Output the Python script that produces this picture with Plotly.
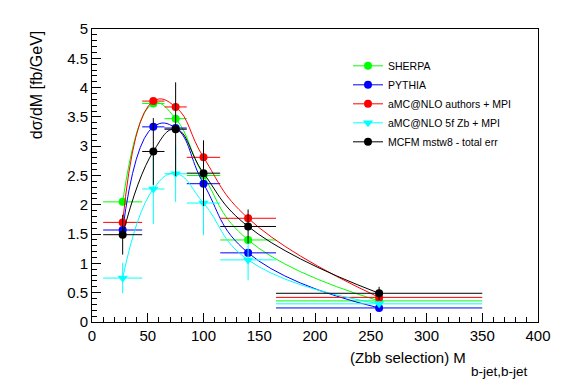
import plotly.graph_objects as go

# Bin centres and half-widths (GeV)
mass_centres = [27.5, 55, 75, 100, 140, 257.5]
mass_halfwidths = [17.5, 10, 10, 15, 25, 92.5]

# Series values (fb/GeV)
sherpa = [2.05, 3.73, 3.47, 2.50, 1.40, 0.36]
pythia = [1.57, 3.33, 3.31, 2.36, 1.18, 0.24]
amc_authors = [1.70, 3.77, 3.67, 2.81, 1.77, 0.42]
amc_5f = [0.75, 2.27, 2.53, 2.03, 1.06, 0.31]
amc_5f_err = [0.26, 0.60, 0.48, 0.55, 0.35, 0.05]
mcfm = [1.49, 2.91, 3.29, 2.54, 1.63, 0.49]
mcfm_err = [0.34, 0.57, 0.80, 0.56, 0.29, 0.11]

x_ticks = [0, 50, 100, 150, 200, 250, 300, 350, 400]
y_ticks = [0, 0.5, 1, 1.5, 2, 2.5, 3, 3.5, 4, 4.5, 5]

FONT = "Liberation Sans, Arial, Helvetica, sans-serif"

series = [
    ("SHERPA", sherpa, None, "#00ff00", "circle", 8),
    ("PYTHIA", pythia, None, "#0000ff", "circle", 8),
    ("aMC@NLO authors + MPI", amc_authors, None, "#ff0000", "circle", 8),
    ("aMC@NLO 5f Zb + MPI", amc_5f, amc_5f_err, "#00ffff", "triangle-down", 9),
    ("MCFM mstw8 - total err", mcfm, mcfm_err, "#000000", "circle", 8),
]

fig = go.Figure()
for name, vals, errs, color, symbol, msize in series:
    fig.add_trace(go.Scatter(
        x=mass_centres, y=vals, name=name,
        mode="lines+markers",
        line=dict(color=color, width=1, shape="spline", smoothing=1.3),
        marker=dict(color=color, symbol=symbol, size=msize, line=dict(width=0)),
        error_x=dict(type="data", array=mass_halfwidths, symmetric=True,
                     color=color, thickness=1, width=0),
        error_y=(dict(type="data", array=errs, symmetric=True, color=color,
                      thickness=1, width=0) if errs is not None
                 else dict(visible=False)),
    ))

# The page body has an 8px margin; compensate so the plot lands where the reference has it.
OFF = 8
W, H = 567 - OFF, 384 - OFF
PL, PR, PT, PB = 92, 538, 20, 322  # plot area in window pixels
L, R, T, B = PL - OFF, 567 - PR, PT - OFF, 384 - PB
pw, ph = PR - PL, PB - PT

def px(xp):
    return (xp - PL) / pw

def py(yp):
    return (PB - yp) / ph

fig.update_layout(
    width=W, height=H,
    margin=dict(l=L, r=R, t=T, b=B),
    paper_bgcolor="white", plot_bgcolor="white",
    font=dict(family=FONT, size=15, color="black"),
    showlegend=True,
    legend=dict(
        x=px(348), y=py(43), xanchor="left", yanchor="top",
        font=dict(family=FONT, size=10.5, color="black"),
        bgcolor="rgba(255,255,255,0)", borderwidth=0,
    ),
    xaxis=dict(
        range=[0, 400], tickvals=x_ticks, ticktext=[str(v) for v in x_ticks],
        ticks="inside", ticklen=9, tickcolor="black", tickwidth=1,
        minor=dict(dtick=10, ticks="inside", ticklen=5, tickcolor="black", showgrid=False),
        showline=True, linecolor="black", linewidth=1, mirror=True,
        showgrid=False, zeroline=False,
        tickfont=dict(family=FONT, size=15),
    ),
    yaxis=dict(
        range=[0, 5], tickvals=y_ticks, ticktext=[("%g" % v) for v in y_ticks],
        ticks="inside", ticklen=9, tickcolor="black", tickwidth=1,
        minor=dict(dtick=0.1, ticks="inside", ticklen=5, tickcolor="black", showgrid=False),
        showline=True, linecolor="black", linewidth=1, mirror=True,
        showgrid=False, zeroline=False,
        tickfont=dict(family=FONT, size=15),
    ),
    annotations=[
        dict(text="dσ/dM [fb/GeV]", textangle=-90, xref="paper", yref="paper",
             x=px(36), y=py(78), xanchor="center", yanchor="middle",
             showarrow=False, font=dict(family=FONT, size=16)),
        dict(text="(Zbb selection) M", xref="paper", yref="paper",
             x=px(468), y=py(359), xanchor="right", yanchor="middle",
             showarrow=False, font=dict(family=FONT, size=15)),
        dict(text="b-jet,b-jet", xref="paper", yref="paper",
             x=px(469), y=py(373), xanchor="left", yanchor="middle",
             showarrow=False, font=dict(family=FONT, size=13.5)),
    ],
)

fig.write_html("out.html")
